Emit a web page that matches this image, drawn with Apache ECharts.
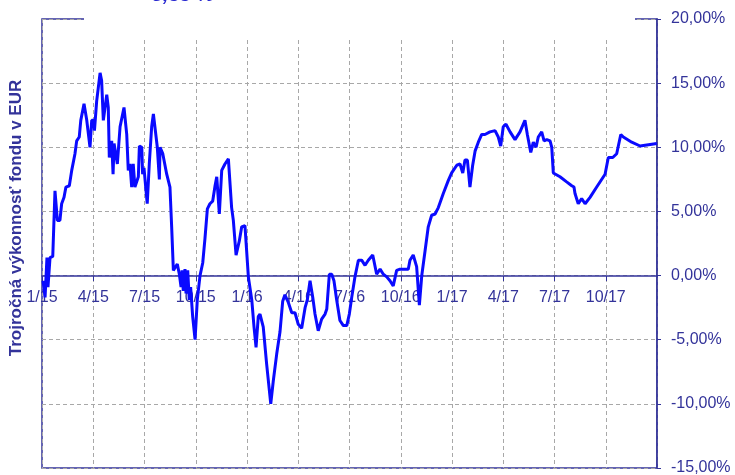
<!DOCTYPE html>
<html>
<head>
<meta charset="utf-8">
<script src="https://cdn.jsdelivr.net/npm/echarts@6/dist/echarts.min.js"></script>
<style>
html,body{margin:0;padding:0;background:#fff;}
#chart{width:735px;height:475px;}
</style>
</head>
<body>
<div id="chart"></div>
<script>
// x positions in months since 1/2015
var months = [0.06,0.18,0.29,0.35,0.47,0.63,0.76,0.90,1.05,1.15,1.29,1.40,1.60,1.74,1.93,2.03,2.18,2.27,2.46,2.62,2.71,2.81,2.91,3.04,3.07,3.20,3.40,3.49,3.59,3.79,3.88,3.94,4.08,4.16,4.22,4.27,4.41,4.57,4.80,4.96,5.05,5.15,5.25,5.34,5.44,5.54,5.64,5.70,5.84,5.89,5.97,6.09,6.16,6.28,6.42,6.52,6.61,6.75,6.87,6.91,7.07,7.30,7.49,7.59,7.69,7.79,7.92,8.04,8.14,8.20,8.27,8.37,8.43,8.53,8.62,8.70,8.82,8.96,9.09,9.25,9.41,9.54,9.68,9.83,9.99,10.13,10.23,10.38,10.52,10.71,10.91,11.01,11.10,11.20,11.36,11.55,11.69,11.88,11.98,12.08,12.28,12.41,12.53,12.66,12.76,12.86,12.95,13.15,13.39,13.54,13.74,13.93,14.09,14.22,14.42,14.62,14.81,15.00,15.20,15.40,15.53,15.69,15.85,15.98,16.17,16.37,16.57,16.67,16.82,16.96,17.09,17.25,17.44,17.64,17.84,17.99,18.13,18.32,18.52,18.71,18.91,19.10,19.36,19.59,19.79,19.98,20.18,20.37,20.56,20.76,20.96,21.25,21.44,21.54,21.73,21.93,22.09,22.23,22.42,22.61,22.81,23.01,23.20,23.49,23.78,23.98,24.28,24.47,24.63,24.76,24.90,25.05,25.21,25.35,25.54,25.74,25.93,26.22,26.52,26.71,26.85,27.00,27.16,27.40,27.69,27.98,28.27,28.41,28.61,28.76,28.92,29.05,29.25,29.39,29.55,29.74,29.84,29.93,30.32,30.71,31.01,31.14,31.20,31.39,31.59,31.79,32.08,32.47,32.96,33.15,33.41,33.64,33.88,34.03,34.52,35.01,35.50,35.99];
// three-year fund return in %
var returns = [-0.4,-1.7,1.4,-0.9,1.4,1.5,6.6,4.3,4.3,5.6,6.1,6.9,7.0,8.2,9.5,10.5,10.8,12.1,13.4,12.1,12.2,10.0,12.1,12.1,11.3,13.6,15.8,15.2,12.1,14.1,13.1,9.2,10.5,7.9,10.3,10.3,8.7,11.6,13.1,11.0,8.2,8.7,6.9,8.7,6.9,6.9,7.7,10.1,10.0,7.9,8.4,6.6,5.6,8.7,11.6,12.6,12.6,10.0,7.5,10.0,9.5,7.9,6.9,3.8,0.4,0.3,0.9,0.1,-0.9,0.4,-1.2,0.5,-1.4,0.4,-1.9,-0.9,-3.2,-5.0,-1.9,0.0,1.0,2.9,5.2,5.6,5.8,7.0,7.7,4.8,8.2,8.7,9.1,9.1,5.3,4.3,1.6,2.7,3.8,3.9,1.9,-0.1,-1.9,-4.0,-5.6,-3.2,-3.0,-3.0,-4.0,-6.9,-10.0,-8.2,-6.1,-4.4,-2.0,-1.5,-2.1,-2.9,-2.9,-3.8,-4.1,-2.5,-1.9,-0.4,-1.7,-3.0,-4.3,-3.4,-3.0,-2.6,0.1,0.1,-0.4,-1.9,-3.5,-3.9,-3.9,-3.0,-1.7,-0.1,1.2,1.2,0.8,1.2,1.6,0.1,0.5,0.1,-0.1,-0.4,-0.8,0.4,0.5,0.5,0.5,1.2,1.6,0.7,-2.3,0.0,1.9,3.8,4.7,4.8,5.3,6.4,7.4,8.0,8.6,8.7,8.0,9.0,9.0,6.9,8.6,9.7,10.4,11.0,11.0,11.2,11.3,10.8,10.1,11.6,11.8,11.2,10.6,11.2,12.1,11.0,9.6,10.4,10.0,10.8,11.2,10.5,10.6,10.5,10.0,8.0,7.7,7.3,7.0,6.9,6.4,5.6,6.0,5.6,6.1,6.9,7.9,9.2,9.2,9.5,11.0,10.8,10.4,10.1,10.2,10.3];
var quarterLabels = ['1/15','4/15','7/15','10/15','1/16','4/16','7/16','10/16','1/17','4/17','7/17','10/17','1/18'];
var yAxisTitle = 'Trojročná výkonnosť fondu v EUR';
var headline = '5,33 %';

var navy = '#33339a';
var seriesData = months.map(function (m, i) { return [m, returns[i]]; });

var chart = echarts.init(document.getElementById('chart'), null, {renderer: 'canvas'});
var gridH = 475 - 19 - 7;
chart.setOption({
  animation: false,
  backgroundColor: '#ffffff',
  grid: {
    left: 42, right: 78, top: 19, bottom: 7,
    outerBoundsMode: 'none', containLabel: false,
    show: true, borderColor: navy, borderWidth: 1.5, backgroundColor: 'transparent'
  },
  xAxis: {
    type: 'value', min: 0, max: 36, interval: 3,
    position: 'bottom',
    // axis sits at the 0 % level: 15/35 of the plot height above the bottom edge
    offset: -Math.round(gridH * 15 / 35),
    axisLine: {show: true, onZero: false, lineStyle: {color: navy, width: 1.5}},
    axisTick: {show: true, length: 5, inside: false, lineStyle: {color: navy, width: 1}},
    axisLabel: {
      show: true, margin: 14, color: navy, fontFamily: 'Liberation Sans, Arial, sans-serif', fontSize: 16,
      showMinLabel: true, showMaxLabel: false,
      formatter: function (v) { return quarterLabels[Math.round(v / 3)]; }
    },
    splitLine: {show: true, lineStyle: {color: '#a8a8a8', type: [4, 3], width: 1}}
  },
  yAxis: {
    type: 'value', position: 'right', min: -15, max: 20, interval: 5,
    axisLine: {show: true, onZero: false, lineStyle: {color: navy, width: 1.5}},
    axisTick: {show: true, length: 4, inside: false, lineStyle: {color: navy, width: 1}},
    axisLabel: {
      show: true, margin: 14, color: navy, fontFamily: 'Liberation Sans, Arial, sans-serif', fontSize: 16,
      formatter: function (v) { return v.toFixed(2).replace('.', ',') + '%'; }
    },
    splitLine: {show: true, lineStyle: {color: '#a8a8a8', type: [4, 3], width: 1}}
  },
  series: [{
    type: 'line', data: seriesData, showSymbol: false, symbol: 'none',
    lineStyle: {color: '#0a0aff', width: 3},
    z: 5
  }],
  graphic: [
    {type: 'rect', z: 100, shape: {x: 84, y: 0, width: 551, height: 38}, style: {fill: '#ffffff'}},
    {type: 'text', z: 101, x: 152, y: -5,
      style: {text: headline, fill: '#2a2ad0', font: 'italic bold 20px Liberation Sans, Arial, sans-serif', verticalAlign: 'middle', align: 'left'}},
    {type: 'text', z: 101, x: 16, y: 218, rotation: Math.PI / 2,
      style: {text: yAxisTitle, fill: navy, font: 'bold 17px Liberation Sans, Arial, sans-serif', align: 'center', verticalAlign: 'middle'}}
  ]
});
</script>
</body>
</html>
